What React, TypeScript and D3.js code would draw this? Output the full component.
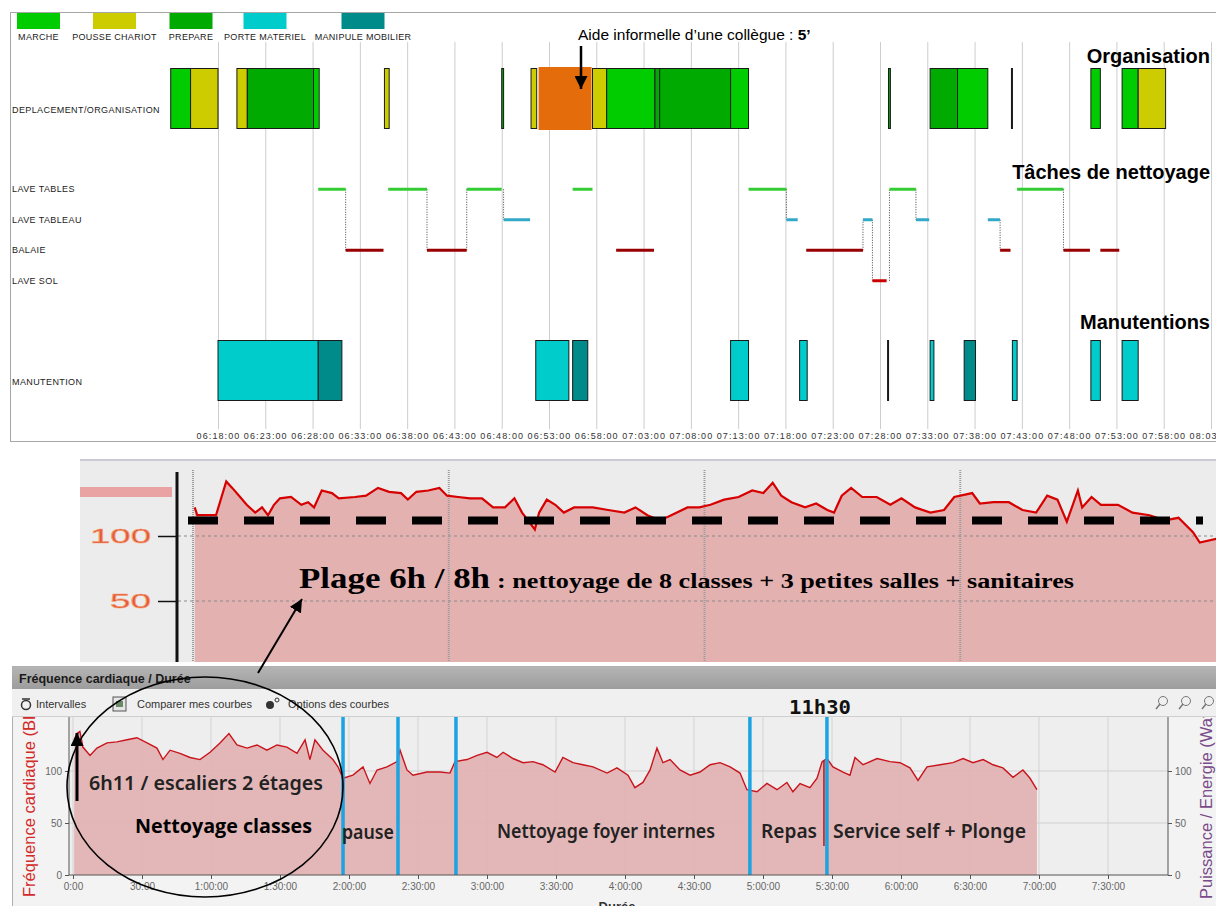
import React, { useEffect, useRef } from "react";
import * as d3 from "d3";

// ---------- top chart : activity chronicle (minutes after 06:00) ----------
const legendTypes = ["MARCHE", "POUSSE CHARIOT", "PREPARE", "PORTE MATERIEL", "MANIPULE MOBILIER"];
const legendColors = ["#00cc00", "#cccc00", "#00aa00", "#00cccc", "#008b8b"];

const organisation: [string, number, number][] = [
  ["MARCHE", 13.0, 15.1],
  ["POUSSE CHARIOT", 15.1, 18.0],
  ["POUSSE CHARIOT", 20.0, 21.1],
  ["PREPARE", 21.1, 28.1],
  ["MARCHE", 28.1, 28.7],
  ["POUSSE CHARIOT", 35.6, 36.1],
  ["PREPARE", 48.0, 48.2],
  ["POUSSE CHARIOT", 51.1, 51.7],
  ["AIDE", 51.9, 57.5],
  ["POUSSE CHARIOT", 57.6, 59.1],
  ["MARCHE", 59.1, 64.2],
  ["PREPARE", 64.2, 64.7],
  ["PREPARE", 64.7, 72.2],
  ["MARCHE", 72.2, 74.1],
  ["PREPARE", 88.9, 89.1],
  ["PREPARE", 93.3, 96.2],
  ["MARCHE", 96.2, 99.4],
  ["PREPARE", 101.9, 102.0],
  ["MARCHE", 110.3, 111.3],
  ["MARCHE", 113.6, 115.3],
  ["POUSSE CHARIOT", 115.3, 118.2],
];

const taskRows = ["LAVE TABLES", "LAVE TABLEAU", "BALAIE", "LAVE SOL"];
const taskColors = ["#33cc33", "#33a9c9", "#990000", "#cc0000"];
const tasks: [string, number, number][] = [
  ["LAVE TABLES", 28.6, 31.5],
  ["BALAIE", 31.5, 35.5],
  ["LAVE TABLES", 36.0, 40.1],
  ["BALAIE", 40.1, 44.3],
  ["LAVE TABLES", 44.3, 48.0],
  ["LAVE TABLEAU", 48.2, 51.0],
  ["LAVE TABLES", 55.5, 57.6],
  ["BALAIE", 60.1, 64.1],
  ["LAVE TABLES", 74.1, 78.1],
  ["LAVE TABLEAU", 78.1, 79.3],
  ["BALAIE", 80.2, 86.2],
  ["LAVE TABLEAU", 86.2, 87.2],
  ["LAVE SOL", 87.2, 88.7],
  ["LAVE TABLES", 89.0, 91.8],
  ["LAVE TABLEAU", 91.8, 93.2],
  ["LAVE TABLEAU", 99.4, 100.7],
  ["BALAIE", 100.7, 101.8],
  ["LAVE TABLES", 102.5, 107.4],
  ["BALAIE", 107.4, 110.2],
  ["BALAIE", 111.3, 113.3],
];

const manutention: [string, number, number][] = [
  ["PORTE MATERIEL", 18.0, 28.6],
  ["MANIPULE MOBILIER", 28.6, 31.1],
  ["PORTE MATERIEL", 51.6, 55.1],
  ["MANIPULE MOBILIER", 55.5, 57.1],
  ["PORTE MATERIEL", 72.2, 74.1],
  ["PORTE MATERIEL", 79.5, 80.3],
  ["PORTE MATERIEL", 88.8, 88.9],
  ["PORTE MATERIEL", 93.3, 93.7],
  ["MANIPULE MOBILIER", 96.9, 98.1],
  ["PORTE MATERIEL", 102.0, 102.5],
  ["PORTE MATERIEL", 110.3, 111.3],
  ["PORTE MATERIEL", 113.6, 115.3],
];

// ---------- middle chart : heart rate 6h-8h (minutes, bpm) ----------
const refHr = 112;
const hrZoom: [number, number][] = [
  [0.2, 122], [0.5, 116], [2.7, 116], [3.9, 142], [4.6, 137], [5.4, 131], [6.3, 124], [7.3, 118],
  [8.1, 122], [8.8, 116], [9.5, 124], [10.2, 129], [11.5, 130], [12.7, 124], [13.5, 126], [14.2, 122],
  [15.1, 135], [16.3, 133], [17.1, 129], [19.0, 130], [20.3, 131], [21.7, 137], [23.0, 134], [24.4, 133],
  [25.2, 128], [26.2, 134], [27.6, 135], [28.9, 137], [29.8, 131], [31.1, 130], [32.5, 129], [33.9, 129],
  [35.2, 122], [36.6, 122], [37.7, 129], [38.6, 118], [40.1, 105], [40.6, 118], [41.5, 128], [42.5, 124],
  [43.5, 118], [44.7, 122], [46.9, 122], [48.7, 120], [50.6, 118], [51.9, 122], [53.3, 116], [54.8, 112],
  [56.1, 116], [58.0, 122], [59.4, 122], [60.7, 124], [62.3, 128], [64.0, 130], [65.6, 135], [66.9, 133],
  [68.0, 141], [69.0, 131], [70.2, 126], [71.8, 122], [73.1, 125], [74.4, 120], [75.2, 118], [76.1, 131],
  [77.2, 137], [78.5, 130], [80.2, 130], [81.8, 124], [83.1, 129], [84.7, 122], [86.5, 118], [88.1, 120],
  [89.3, 130], [91.4, 133], [92.3, 125], [93.9, 126], [95.7, 126], [97.3, 120], [98.9, 118], [100.2, 131],
  [101.4, 128], [102.5, 111], [103.8, 135], [104.3, 122], [105.4, 130], [106.5, 124], [108.5, 124],
  [110.2, 118], [112.2, 116], [114.0, 112], [115.6, 114], [117.3, 103], [118.1, 95], [120.1, 98],
];

// ---------- bottom chart : heart rate over the whole day (minutes, bpm) ----------
const hrDay: [number, number][] = [
  [0.5, 130], [1.7, 136], [3.0, 138], [4.3, 123], [7.4, 115], [10.4, 122], [14.8, 127], [19.1, 128],
  [23.5, 130], [27.8, 132], [32.2, 127], [36.5, 122], [39.1, 111], [42.2, 120], [46.5, 117], [50.9, 113],
  [55.2, 111], [59.6, 118], [63.9, 127], [67.8, 136], [71.3, 125], [75.7, 122], [80.0, 125], [84.3, 120],
  [88.7, 125], [93.0, 123], [97.4, 117], [100.9, 130], [103.0, 111], [105.2, 130], [108.7, 120], [113.0, 111],
  [115.2, 104], [117.4, 93], [121.7, 96], [126.1, 104], [129.1, 88], [132.2, 101], [136.5, 104], [140.9, 109],
  [142.2, 120], [145.2, 101], [147.8, 96], [153.9, 99], [159.6, 99], [163.9, 98], [166.1, 109], [171.3, 111],
  [175.7, 115], [180.0, 118], [184.3, 113], [187.0, 118], [191.3, 112], [195.7, 108], [200.0, 109], [204.3, 106],
  [209.6, 99], [213.0, 113], [217.4, 108], [221.7, 106], [226.1, 104], [232.2, 98], [236.5, 103], [241.3, 96],
  [244.3, 84], [247.8, 89], [250.9, 101], [253.9, 122], [256.5, 108], [259.6, 111], [263.9, 101], [268.3, 96],
  [272.6, 99], [277.0, 106], [281.3, 108], [285.7, 104], [290.0, 98], [293.0, 82], [297.4, 80], [301.7, 88],
  [306.1, 82], [310.4, 89], [313.0, 80], [316.1, 88], [320.4, 84], [323.5, 93], [325.7, 109], [327.8, 112],
  [330.4, 104], [334.8, 99], [337.8, 96], [340.0, 113], [343.5, 106], [349.6, 112], [355.2, 109], [359.6, 108],
  [363.9, 103], [367.4, 91], [371.3, 104], [377.0, 106], [382.6, 108], [387.0, 112], [391.3, 108], [395.7, 111],
  [400.0, 106], [404.3, 103], [408.7, 94], [413.0, 101], [416.1, 93], [419.1, 82],
];
const intervalMarks = [117.4, 141.3, 166.5, 294.3, 327.8];
const mealMark = 326.5;

const SANS = "'Liberation Sans', Arial, sans-serif";

const fmtClock = (m: number) => {
  const h = 6 + Math.floor(m / 60);
  const mm = Math.round(m % 60);
  return `${String(h).padStart(2, "0")}:${String(mm).padStart(2, "0")}:00`;
};
const fmtDur = (m: number) => {
  if (m === 0) return "0:00";
  if (m < 60) return `${m}:00`;
  return `${Math.floor(m / 60)}:${String(m % 60).padStart(2, "0")}:00`;
};

function drawTimeline(svg: any) {
  const x = d3.scaleLinear().domain([18, 123]).range([218, 1211]);
  const color = d3
    .scaleOrdinal<string, string>()
    .domain([...legendTypes, "AIDE"])
    .range([...legendColors, "#e46c0a"]);
  const g = svg.append("g").attr("font-family", SANS);

  g.append("rect")
    .attr("x", 10.5).attr("y", 12.5).attr("width", 1215).attr("height", 429)
    .attr("fill", "#fff").attr("stroke", "#a6a6a6");

  const axis = g
    .append("g")
    .attr("transform", "translate(0,429)")
    .call(
      d3.axisBottom(x)
        .tickValues(d3.range(18, 124, 5))
        .tickFormat((d: any) => fmtClock(+d))
        .tickSize(-387)
        .tickPadding(4)
    );
  axis.select(".domain").remove();
  axis.attr("font-family", SANS);
  axis.selectAll(".tick line").attr("stroke", "#cdcdcd");
  axis.selectAll(".tick text").attr("font-size", 9).attr("letter-spacing", 1.1).attr("fill", "#333");

  // legend
  const legendX = [38.5, 114.5, 191, 265, 363];
  const leg = g.append("g").selectAll("g").data(legendTypes).join("g")
    .attr("transform", (d: string, i: number) => `translate(${legendX[i]},0)`);
  leg.append("rect").attr("x", -21.5).attr("y", 13).attr("width", 43).attr("height", 16)
    .attr("fill", (d: string) => color(d));
  leg.append("text").attr("y", 40).attr("text-anchor", "middle").attr("font-size", 9)
    .attr("letter-spacing", 0.3).attr("fill", "#222").text((d: string) => d);

  // row labels
  const yT = d3.scaleBand().domain(taskRows).range([174, 296]);
  const yc = (t: string) => (yT(t) as number) + yT.bandwidth() / 2;
  const rowLabels: [string, number][] = [
    ["DEPLACEMENT/ORGANISATION", 113],
    ...taskRows.map((t) => [t, yc(t) + 3] as [string, number]),
    ["MANUTENTION", 385],
  ];
  g.append("g").selectAll("text").data(rowLabels).join("text")
    .attr("x", 12).attr("y", (d: any) => d[1]).attr("font-size", 9).attr("letter-spacing", 0.4)
    .attr("fill", "#222").text((d: any) => d[0]);

  // organisation bars
  g.append("g").selectAll("rect").data(organisation).join("rect")
    .attr("x", (d: any) => x(d[1]))
    .attr("width", (d: any) => Math.max(1, x(d[2]) - x(d[1])))
    .attr("y", (d: any) => (d[0] === "AIDE" ? 67 : 68.5))
    .attr("height", (d: any) => (d[0] === "AIDE" ? 63 : 60))
    .attr("fill", (d: any) => color(d[0]))
    .attr("stroke", (d: any) => (d[0] === "AIDE" ? "none" : "#1a1a1a"))
    .attr("stroke-width", 1);

  // task transitions (dotted connectors)
  const links = tasks.slice(1)
    .map((d, i) => [tasks[i], d])
    .filter(([a, b]) => Math.abs(b[1] - a[2]) < 0.3 && a[0] !== b[0]);
  g.append("g").selectAll("line").data(links).join("line")
    .attr("x1", (d: any) => x(d[1][1])).attr("x2", (d: any) => x(d[1][1]))
    .attr("y1", (d: any) => yc(d[0][0])).attr("y2", (d: any) => yc(d[1][0]))
    .attr("stroke", "#444").attr("stroke-dasharray", "1,1.5");
  g.append("g").selectAll("line").data(tasks).join("line")
    .attr("x1", (d: any) => x(d[1])).attr("x2", (d: any) => x(d[2]))
    .attr("y1", (d: any) => yc(d[0])).attr("y2", (d: any) => yc(d[0]))
    .attr("stroke", (d: any) => taskColors[taskRows.indexOf(d[0])])
    .attr("stroke-width", 3);

  // manutention bars
  g.append("g").selectAll("rect").data(manutention).join("rect")
    .attr("x", (d: any) => x(d[1]))
    .attr("width", (d: any) => Math.max(1, x(d[2]) - x(d[1])))
    .attr("y", 340.5).attr("height", 60)
    .attr("fill", (d: any) => color(d[0]))
    .attr("stroke", "#1a1a1a").attr("stroke-width", 1);

  // section headings
  const heads: [string, number][] = [["Organisation", 63], ["Tâches de nettoyage", 179], ["Manutentions", 329]];
  g.append("g").selectAll("text").data(heads).join("text")
    .attr("x", 1210).attr("y", (d: any) => d[1]).attr("text-anchor", "end")
    .attr("font-size", 20).attr("font-weight", "bold").attr("fill", "#000").text((d: any) => d[0]);

  const note = g.append("text").attr("x", 578).attr("y", 40).attr("font-size", 15.5).attr("fill", "#000");
  note.append("tspan").text("Aide informelle d’une collègue : ");
  note.append("tspan").attr("font-weight", "bold").text("5’");
  g.append("line").attr("x1", 581).attr("x2", 581).attr("y1", 46).attr("y2", 89)
    .attr("stroke", "#000").attr("stroke-width", 2.5).attr("marker-end", "url(#head)");
}

function drawZoom(svg: any, defs: any) {
  const x = d3.scaleLinear().domain([0, 120]).range([193, 1216]);
  const y = d3.scaleLinear().domain([0, 100]).range([666, 536]);
  const g = svg.append("g");

  g.append("rect").attr("x", 80).attr("y", 459).attr("width", 1136).attr("height", 203).attr("fill", "#ececec");
  g.append("line").attr("x1", 80).attr("x2", 1216).attr("y1", 460).attr("y2", 460)
    .attr("stroke", "#c9cad6").attr("stroke-width", 2);
  g.append("rect").attr("x", 80).attr("y", 487).attr("width", 92).attr("height", 10).attr("fill", "#e9a3a3");

  defs.append("clipPath").attr("id", "clipZoom").append("rect")
    .attr("x", 178).attr("y", 462).attr("width", 1038).attr("height", 200);
  const plot = g.append("g").attr("clip-path", "url(#clipZoom)");

  plot.append("path").datum(hrZoom)
    .attr("d", d3.area<[number, number]>().x((d) => x(d[0])).y0(662).y1((d) => y(d[1])))
    .attr("fill", "#e4b1b1");
  plot.append("g").selectAll("line").data([50, 100]).join("line")
    .attr("x1", 178).attr("x2", 1216).attr("y1", (d: number) => y(d)).attr("y2", (d: number) => y(d))
    .attr("stroke", "#8a8a8a").attr("stroke-dasharray", "3,3");
  plot.append("g").selectAll("line").data([0, 30, 60, 90]).join("line")
    .attr("x1", (d: number) => x(d)).attr("x2", (d: number) => x(d)).attr("y1", 470).attr("y2", 662)
    .attr("stroke", "#9a9a9a").attr("stroke-width", 2).attr("stroke-dasharray", "1,1");
  plot.append("path").datum(hrZoom)
    .attr("d", d3.line<[number, number]>().x((d) => x(d[0])).y((d) => y(d[1])))
    .attr("fill", "none").attr("stroke", "#d60000").attr("stroke-width", 2.2);

  g.append("line").attr("x1", 188).attr("x2", 1203).attr("y1", y(refHr)).attr("y2", y(refHr))
    .attr("stroke", "#000").attr("stroke-width", 8).attr("stroke-dasharray", "30,26");

  const ax = g.append("g").attr("transform", "translate(177,0)")
    .call(d3.axisLeft(y).tickValues([50, 100]).tickSize(19).tickPadding(7));
  ax.select(".domain").remove();
  ax.selectAll(".tick line").attr("stroke", "#111").attr("stroke-width", 1.5);
  ax.selectAll(".tick text").attr("font-family", SANS).attr("font-size", 21)
    .attr("textLength", (d: number) => (d >= 100 ? 61 : 41)).attr("lengthAdjust", "spacingAndGlyphs")
    .attr("fill", "#e3553c").attr("stroke", "#f4a070").attr("stroke-width", 0.6);
  g.append("line").attr("x1", 177).attr("x2", 177).attr("y1", 472).attr("y2", 662)
    .attr("stroke", "#111").attr("stroke-width", 3);

  const t = g.append("text").attr("font-family", "'Liberation Serif', 'DejaVu Serif', serif")
    .attr("font-weight", "bold").attr("fill", "#000");
  t.append("tspan").attr("x", 299).attr("y", 588).attr("font-size", 30).attr("textLength", 191)
    .attr("lengthAdjust", "spacingAndGlyphs").text("Plage 6h / 8h");
  t.append("tspan").attr("x", 497).attr("y", 588).attr("font-size", 20).attr("textLength", 577)
    .attr("lengthAdjust", "spacingAndGlyphs").text(": nettoyage de 8 classes + 3 petites salles + sanitaires");
}

function drawWindow(svg: any, defs: any) {
  const x = d3.scaleLinear().domain([0, 450]).range([73, 1108]);
  const y = d3.scaleLinear().domain([0, 100]).range([875, 771]);
  const g = svg.append("g").attr("font-family", SANS);

  g.append("rect").attr("x", 12.5).attr("y", 666.5).attr("width", 1210).attr("height", 250)
    .attr("fill", "#f3f3f3").attr("stroke", "#b0b0b0");

  // plot area
  g.append("rect").attr("x", 69).attr("y", 717).attr("width", 1099).attr("height", 158).attr("fill", "#eeeeee");
  const xTicks = d3.range(0, 451, 30);
  g.append("g").selectAll("line").data(xTicks).join("line")
    .attr("x1", (d: number) => x(d)).attr("x2", (d: number) => x(d)).attr("y1", 717).attr("y2", 875)
    .attr("stroke", "#d3d3d3");
  g.append("g").selectAll("line").data([50, 100]).join("line")
    .attr("x1", 69).attr("x2", 1168).attr("y1", (d: number) => y(d)).attr("y2", (d: number) => y(d))
    .attr("stroke", "#d0d0d0");

  g.append("path").datum(hrDay)
    .attr("d", d3.area<[number, number]>().x((d) => x(d[0])).y0(y(0)).y1((d) => y(d[1])))
    .attr("fill", "#e2b3b3").attr("opacity", 0.95);
  g.append("path").datum(hrDay)
    .attr("d", d3.line<[number, number]>().x((d) => x(d[0])).y((d) => y(d[1])))
    .attr("fill", "none").attr("stroke", "#c8141c").attr("stroke-width", 1.4);

  g.append("g").selectAll("line").data(intervalMarks).join("line")
    .attr("x1", (d: number) => x(d)).attr("x2", (d: number) => x(d)).attr("y1", 717).attr("y2", 875)
    .attr("stroke", "#1ba3e3").attr("stroke-width", 3.5);
  g.append("line").attr("x1", x(mealMark)).attr("x2", x(mealMark)).attr("y1", y(110)).attr("y2", y(28))
    .attr("stroke", "#b01818").attr("stroke-width", 1.5);

  // axes
  const xa = g.append("g").attr("transform", "translate(0,875)")
    .call(d3.axisBottom(x).tickValues(xTicks).tickFormat((d: any) => fmtDur(+d)).tickSize(4).tickPadding(4));
  const ya = g.append("g").attr("transform", "translate(69,0)")
    .call(d3.axisLeft(y).tickValues([0, 50, 100]).tickSize(4).tickPadding(3));
  const yr = g.append("g").attr("transform", "translate(1168,0)")
    .call(d3.axisRight(y).tickValues([0, 50, 100]).tickSize(4).tickPadding(3));
  [xa, ya, yr].forEach((a) => {
    a.select(".domain").remove();
    a.attr("font-family", SANS);
    a.selectAll(".tick line").attr("stroke", "#555");
    a.selectAll(".tick text").attr("font-size", 10).attr("fill", "#666");
  });
  g.append("line").attr("x1", 69).attr("x2", 1168).attr("y1", 875).attr("y2", 875).attr("stroke", "#555");
  g.append("line").attr("x1", 69).attr("x2", 69).attr("y1", 717).attr("y2", 875).attr("stroke", "#555");
  g.append("line").attr("x1", 1168).attr("x2", 1168).attr("y1", 717).attr("y2", 875).attr("stroke", "#555");

  g.append("text").attr("transform", "translate(35,897) rotate(-90)").attr("font-size", 16.5)
    .attr("fill", "#d42a2a").text("Fréquence cardiaque (BPM)");
  g.append("text").attr("transform", "translate(1212,899) rotate(-90)").attr("font-size", 16.5)
    .attr("fill", "#7a4b8a").text("Puissance / Energie (Watt)");
  g.append("text").attr("x", 617).attr("y", 911).attr("text-anchor", "middle").attr("font-size", 13)
    .attr("font-weight", "bold").attr("fill", "#333").text("Durée");

  // title bar and toolbar
  const grad = defs.append("linearGradient").attr("id", "titleGrad").attr("x1", 0).attr("y1", 0).attr("x2", 0).attr("y2", 1);
  grad.append("stop").attr("offset", 0).attr("stop-color", "#b4b4b4");
  grad.append("stop").attr("offset", 1).attr("stop-color", "#9d9d9d");
  g.append("rect").attr("x", 12).attr("y", 689).attr("width", 1204).attr("height", 28).attr("fill", "#f0f0f0");
  g.append("line").attr("x1", 12).attr("x2", 1216).attr("y1", 716.5).attr("y2", 716.5).attr("stroke", "#cfcfcf");
  g.append("rect").attr("x", 12).attr("y", 667).attr("width", 1204).attr("height", 22).attr("fill", "url(#titleGrad)");
  g.append("text").attr("x", 19).attr("y", 683).attr("font-size", 12.5).attr("font-weight", "bold")
    .attr("fill", "#1a1a1a").text("Fréquence cardiaque / Durée");

  const tools: [string, number][] = [["Intervalles", 36], ["Comparer mes courbes", 137], ["Options des courbes", 288]];
  g.append("g").selectAll("text").data(tools).join("text")
    .attr("x", (d: any) => d[1]).attr("y", 708).attr("font-size", 11).attr("fill", "#333").text((d: any) => d[0]);
  g.append("circle").attr("cx", 26).attr("cy", 705).attr("r", 4.5).attr("fill", "none").attr("stroke", "#333").attr("stroke-width", 1.5);
  g.append("line").attr("x1", 22).attr("x2", 30).attr("y1", 699).attr("y2", 699).attr("stroke", "#333").attr("stroke-width", 1.5);
  g.append("rect").attr("x", 113).attr("y", 697).attr("width", 13).attr("height", 14).attr("fill", "#e6e6e6").attr("stroke", "#555");
  g.append("rect").attr("x", 116).attr("y", 701).attr("width", 7).attr("height", 6).attr("fill", "#6a8a6a");
  g.append("circle").attr("cx", 270).attr("cy", 705).attr("r", 4).attr("fill", "#333");
  g.append("circle").attr("cx", 277).attr("cy", 700).attr("r", 2).attr("fill", "none").attr("stroke", "#333");
  [1163, 1186, 1209].forEach((cx) => {
    g.append("circle").attr("cx", cx).attr("cy", 701).attr("r", 4.5).attr("fill", "none").attr("stroke", "#777");
    g.append("line").attr("x1", cx - 3).attr("x2", cx - 7).attr("y1", 704).attr("y2", 709).attr("stroke", "#777").attr("stroke-width", 1.5);
  });
  g.append("text").attr("x", 789).attr("y", 714).attr("font-family", "'DejaVu Sans Mono', monospace")
    .attr("font-weight", "bold").attr("font-size", 19).attr("textLength", 62).attr("lengthAdjust", "spacingAndGlyphs")
    .attr("fill", "#111").text("11h30");

  // phase labels
  const phases: [string, number, number, number, string][] = [
    ["6h11 / escaliers  2 étages", 89, 790, 234, "600"],
    ["Nettoyage classes", 135, 833, 177, "bold"],
    ["pause", 342, 839, 52, "600"],
    ["Nettoyage foyer internes", 497, 838, 218, "600"],
    ["Repas", 761, 838, 56, "600"],
    ["Service self + Plonge", 833, 838, 193, "600"],
  ];
  g.append("g").selectAll("text").data(phases).join("text")
    .attr("x", (d: any) => d[1]).attr("y", (d: any) => d[2])
    .attr("font-family", (d: any) => (d[4] === "bold" ? "'Open Sans', sans-serif" : "'Noto Sans', sans-serif"))
    .attr("font-weight", (d: any) => d[4]).attr("font-size", 19)
    .attr("textLength", (d: any) => d[3]).attr("lengthAdjust", "spacingAndGlyphs")
    .attr("fill", (d: any) => (d[4] === "bold" ? "#000" : "#222")).text((d: any) => d[0]);

  g.append("line").attr("x1", 77).attr("x2", 77).attr("y1", 801).attr("y2", 733)
    .attr("stroke", "#000").attr("stroke-width", 3).attr("marker-end", "url(#head)");
}

function drawNotes(svg: any) {
  const g = svg.append("g");
  g.append("ellipse").attr("cx", 205).attr("cy", 787).attr("rx", 138).attr("ry", 110)
    .attr("fill", "none").attr("stroke", "#000").attr("stroke-width", 1.6);
  g.append("line").attr("x1", 258).attr("y1", 673).attr("x2", 302).attr("y2", 599)
    .attr("stroke", "#000").attr("stroke-width", 2).attr("marker-end", "url(#head)");
}

export default function App() {
  const ref = useRef<SVGSVGElement | null>(null);

  useEffect(() => {
    const svg = d3.select(ref.current);
    svg.selectAll("*").remove();
    const defs = svg.append("defs");
    defs.append("marker").attr("id", "head").attr("viewBox", "0 0 10 10")
      .attr("refX", 10).attr("refY", 5).attr("markerUnits", "userSpaceOnUse")
      .attr("markerWidth", 13).attr("markerHeight", 13).attr("orient", "auto")
      .append("path").attr("d", "M0,0L10,5L0,10z").attr("fill", "#000");

    drawTimeline(svg);
    drawZoom(svg, defs);
    drawWindow(svg, defs);
    drawNotes(svg);
  }, []);

  return (
    <div style={{ position: "absolute", left: 0, top: 0 }}>
      <svg ref={ref} width={1216} height={906} style={{ display: "block", background: "#fff" }} />
    </div>
  );
}
